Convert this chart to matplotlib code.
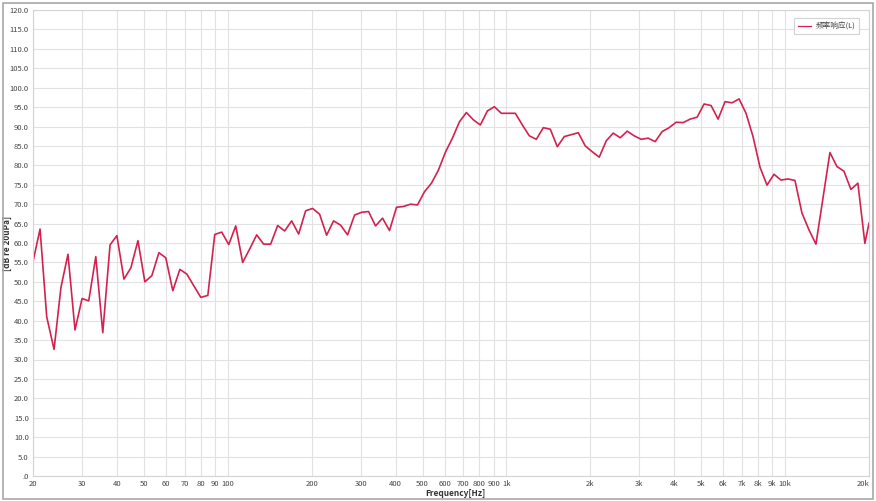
import matplotlib
matplotlib.use("Agg")
import matplotlib.pyplot as plt
from matplotlib.patches import Rectangle

plt.rcParams['font.family'] = ['Noto Sans CJK SC', 'DejaVu Sans']

# 1/12 octave frequency points (Hz)
freq = [20.0, 21.2, 22.4, 23.8, 25.2, 26.7, 28.3, 30.0, 31.7, 33.6,
        35.6, 37.8, 40.0, 42.4, 44.9, 47.6, 50.4, 53.4, 56.6, 59.9,
        63.5, 67.3, 71.3, 75.5, 80.0, 84.8, 89.8, 95.1, 100.8, 106.8,
        113.1, 119.9, 127.0, 134.5, 142.5, 151.0, 160.0, 169.5, 179.6, 190.3,
        201.6, 213.6, 226.3, 239.7, 254.0, 269.1, 285.1, 302.0, 320.0, 339.0,
        359.2, 380.5, 403.2, 427.1, 452.5, 479.4, 508.0, 538.2, 570.2, 604.1,
        640.0, 678.0, 718.3, 761.1, 806.3, 854.2, 905.0, 958.8, 1015.9, 1076.3,
        1140.3, 1208.1, 1280.0, 1356.1, 1436.7, 1522.2, 1612.7, 1708.6, 1810.2, 1917.9,
        2031.9, 2152.7, 2280.7, 2416.4, 2560.0, 2712.2, 2873.5, 3044.4, 3225.4, 3417.2,
        3620.4, 3835.7, 4063.7, 4305.4, 4561.4, 4832.6, 5120.0, 5424.4, 5747.0, 6088.7,
        6450.8, 6834.4, 7240.8, 7671.3, 8127.5, 8610.8, 9122.8, 9665.3, 10240.0, 10849.0,
        11494.0, 12177.0, 12902.0, 13669.0, 14482.0, 15343.0, 16255.0, 17222.0, 18246.0, 19330.0,
        20000.0]

# level, dB re 20uPa
level = [55.2, 63.6, 41.0, 32.6, 48.6, 57.1, 37.6, 45.7, 45.1, 56.5,
         36.9, 59.5, 61.9, 50.7, 53.6, 60.6, 50.0, 51.6, 57.5, 56.2,
         47.7, 53.2, 52.0, 49.0, 46.0, 46.5, 62.2, 62.8, 59.6, 64.4,
         55.0, 58.5, 62.1, 59.7, 59.7, 64.5, 63.1, 65.7, 62.3, 68.3,
         68.9, 67.4, 62.0, 65.7, 64.6, 62.1, 67.2, 67.9, 68.1, 64.4,
         66.4, 63.2, 69.2, 69.4, 70.0, 69.8, 73.2, 75.4, 78.8, 83.4,
         87.0, 91.2, 93.6, 91.7, 90.4, 94.0, 95.1, 93.4, 93.4, 93.4,
         90.4, 87.6, 86.7, 89.7, 89.3, 84.8, 87.4, 87.9, 88.4, 85.0,
         83.5, 82.1, 86.3, 88.3, 87.1, 88.8, 87.6, 86.7, 87.0, 86.1,
         88.7, 89.7, 91.1, 91.0, 91.9, 92.4, 95.8, 95.4, 91.9, 96.4,
         96.1, 97.1, 93.4, 87.4, 79.5, 74.9, 77.7, 76.2, 76.5, 76.1,
         67.7, 63.4, 59.7, 71.5, 83.3, 79.7, 78.5, 73.8, 75.4, 59.9,
         65.1]

xticks = [20, 30, 40, 50, 60, 70, 80, 90, 100, 200, 300, 400, 500, 600, 700, 800, 900,
          1000, 2000, 3000, 4000, 5000, 6000, 7000, 8000, 9000, 10000, 20000]
xlabels = ['20', '30', '40', '50', '60', '70', '80', '90', '100', '200', '300', '400',
           '500', '600', '700', '800', '900', '1k', '2k', '3k', '4k', '5k', '6k', '7k',
           '8k', '9k', '10k', '20k']
yticks = list(range(0, 125, 5))

W, H = 876, 501
fig = plt.figure(figsize=(W / 100, H / 100), dpi=100)
ax = fig.add_axes([33 / W, 1 - 476 / H, (869 - 33) / W, (476 - 10) / H])

ax.plot(freq, level, color='#d3224f', lw=1.2, label='频率响应(L)')

ax.set_xscale('log')
ax.set_xlim(20, 20000)
ax.set_ylim(0, 120)
ax.set_xticks(xticks)
ax.set_xticklabels(xlabels)
ax.xaxis.set_minor_locator(matplotlib.ticker.NullLocator())
ax.set_yticks(yticks)
ax.set_yticklabels(['.0' if v == 0 else f'{v:.1f}' for v in yticks])
ax.tick_params(length=0, labelsize=5.5, colors='#444444', pad=3)
ax.get_xticklabels()[-1].set_horizontalalignment('right')
ax.grid(True, color='#e2e2e2', lw=0.8)
ax.set_axisbelow(True)
for s in ax.spines.values():
    s.set_color('#d4d4d4')
    s.set_linewidth(0.8)

ax.set_xlabel('Frequency[Hz]', fontsize=6, fontweight='bold', color='#333333')
ax.set_ylabel('[dB re 20uPa]', fontsize=6, fontweight='bold', color='#333333')
ax.xaxis.set_label_coords((455 - 33) / 836, -(489 - 476) / 466)
ax.yaxis.set_label_coords(-(33 - 12) / 836, 0.5)

leg = ax.legend(loc='upper right', fontsize=5.5, frameon=True, fancybox=False,
                handlelength=1.8, handletextpad=0.5, borderpad=0.5,
                bbox_to_anchor=(0.9925, 0.99))
leg.get_frame().set_edgecolor('#c8c8c8')
leg.get_frame().set_linewidth(0.8)
leg.get_lines()[0].set_linewidth(0.9)
for t in leg.get_texts():
    t.set_color('#444444')

# outer frame
fig.patches.append(Rectangle((3 / W, 2 / H), 870 / W, 496 / H, transform=fig.transFigure,
                             fill=False, edgecolor='#a8a8a8', lw=1.2))

fig.savefig('out.png', dpi=100, facecolor='white')
